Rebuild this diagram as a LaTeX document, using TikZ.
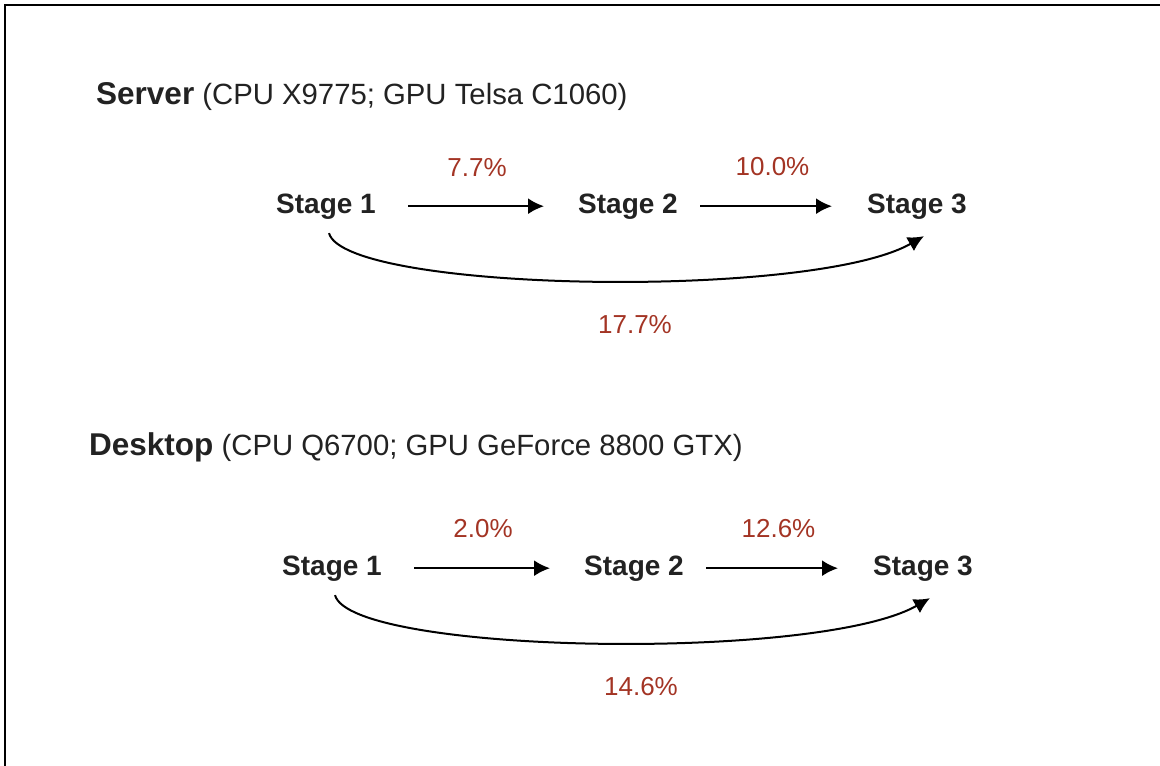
\documentclass[tikz,border=0pt]{standalone}
\usepackage{fontspec}
\setmainfont{Liberation Sans}
\usepackage{tikz}
\usetikzlibrary{arrows.meta,positioning}

\definecolor{pctred}{RGB}{163,52,36}
\definecolor{inkgray}{RGB}{34,34,34}

\begin{document}
\begin{tikzpicture}[>={Latex[length=16pt,width=16pt]},x=1pt,y=1pt,
    stage/.style={font=\fontsize{28}{34}\selectfont\bfseries,text=inkgray,inner sep=2pt,anchor=base},
    pct/.style={font=\fontsize{26}{31}\selectfont,text=pctred,inner sep=2pt},
    title/.style={font=\fontsize{29.3}{34}\selectfont,text=inkgray,inner sep=0pt,anchor=base west},
    flow/.style={->,line width=2pt,shorten <=30pt,shorten >=32pt},
    sweep/.style={->,line width=2pt}]

    \useasboundingbox (0,0) rectangle (1160,-766);
    \draw[line width=1.5pt] (5,-766) -- (5,-5) -- (1160,-5);

    % server
    \node[title] (t1) at (96,-104) {{\fontsize{31.5}{36}\selectfont\bfseries Server} (CPU X9775; GPU Telsa C1060)};

    \node[stage] (1) at (326,-213) {Stage 1};
    \node[stage] (2) at (628,-213) {Stage 2};
    \node[stage] (3) at (917,-213) {Stage 3};

    \path (1) edge[flow] node[pct,above=27pt] {7.7\%} (2);
    \path (2) edge[flow,shorten <=20pt,shorten >=33pt] node[pct,above=27pt] {10.0\%} (3);
    \draw[sweep] ([shift={(3pt,-12pt)}]1.south) .. controls +(16,-59) and +(-112,-64) .. ([shift={(7pt,-15pt)}]3.south);
    \node[pct,anchor=base] (7) at (635,-333) {17.7\%};

    % desktop
    \node[title] (t2) at (89,-455) {{\fontsize{31.5}{36}\selectfont\bfseries Desktop} (CPU Q6700; GPU GeForce 8800 GTX)};

    \node[stage] (4) at (332,-575) {Stage 1};
    \node[stage] (5) at (634,-575) {Stage 2};
    \node[stage] (6) at (923,-575) {Stage 3};

    \path (4) edge[flow] node[pct,above=27pt] {2.0\%} (5);
    \path (5) edge[flow,shorten <=20pt,shorten >=33pt] node[pct,above=27pt] {12.6\%} (6);
    \draw[sweep] ([shift={(3pt,-12pt)}]4.south) .. controls +(16,-59) and +(-112,-64) .. ([shift={(7pt,-15pt)}]6.south);
    \node[pct,anchor=base] (8) at (641,-695) {14.6\%};
\end{tikzpicture}
\end{document}
